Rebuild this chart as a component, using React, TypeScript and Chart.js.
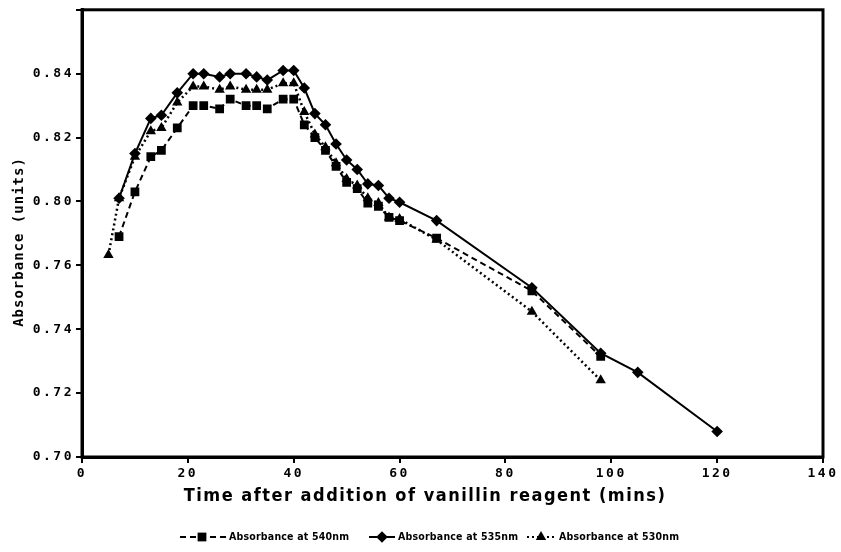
import React, { useEffect, useRef } from 'react';
import { Chart, LinearScale, registerables } from 'chart.js';

// ---- Axis ticks ----
const X_TICKS = [0, 20, 40, 60, 80, 100, 120, 140];
const Y_TICK_VALUES = [0.70, 0.72, 0.74, 0.76, 0.80, 0.82, 0.84, 0.86];
const Y_TICK_LABELS = ['0.70', '0.72', '0.74', '0.76', '0.80', '0.82', '0.84', ''];

// ---- Series: Absorbance at 540nm (squares, dashed) ----
const TIMES_540 = [7, 10, 13, 15, 18, 21, 23, 26, 28, 31, 33, 35, 38, 40, 42, 44, 46, 48, 50, 52, 54, 56, 58, 60, 67, 85, 98];
const ABS_540 = [0.778, 0.803, 0.814, 0.816, 0.823, 0.830, 0.830, 0.829, 0.832, 0.830, 0.830, 0.829, 0.832, 0.832, 0.824, 0.820, 0.816, 0.811, 0.806, 0.804, 0.799, 0.797, 0.790, 0.788, 0.777, 0.752, 0.7315];

// ---- Series: Absorbance at 535nm (diamonds, solid) ----
const TIMES_535 = [7, 10, 13, 15, 18, 21, 23, 26, 28, 31, 33, 35, 38, 40, 42, 44, 46, 48, 50, 52, 54, 56, 58, 60, 67, 85, 98, 105, 120];
const ABS_535 = [0.801, 0.815, 0.826, 0.827, 0.834, 0.840, 0.840, 0.839, 0.840, 0.840, 0.839, 0.838, 0.841, 0.841, 0.8355, 0.8275, 0.824, 0.818, 0.813, 0.810, 0.8055, 0.805, 0.801, 0.7995, 0.788, 0.753, 0.7325, 0.7265, 0.708];

// ---- Series: Absorbance at 530nm (triangles, dotted) ----
const TIMES_530 = [5, 7, 10, 13, 15, 18, 21, 23, 26, 28, 31, 33, 35, 38, 40, 42, 44, 46, 48, 50, 52, 54, 56, 58, 60, 67, 85, 98];
const ABS_530 = [0.7665, 0.801, 0.814, 0.822, 0.823, 0.831, 0.836, 0.836, 0.835, 0.836, 0.835, 0.835, 0.835, 0.837, 0.837, 0.828, 0.821, 0.817, 0.812, 0.807, 0.805, 0.801, 0.799, 0.790, 0.789, 0.776, 0.7455, 0.724];

const SERIES_LABELS = ['Absorbance at 540nm', 'Absorbance at 535nm', 'Absorbance at 530nm'];
const X_TITLE = 'Time after addition of vanillin reagent (mins)';
const Y_TITLE = 'Absorbance (units)';

// Piecewise scale: labelled ticks are evenly spaced (as in the original figure)
function valueToDecimal(v: number): number {
  const T = Y_TICK_VALUES;
  const n = T.length - 1;
  if (v <= T[0]) return (v - T[0]) / (T[1] - T[0]) / n;
  for (let i = 0; i < n; i++) {
    if (v <= T[i + 1]) return (i + (v - T[i]) / (T[i + 1] - T[i])) / n;
  }
  return (n + (v - T[n]) / (T[n] - T[n - 1])) / n;
}
function decimalToValue(d: number): number {
  const T = Y_TICK_VALUES;
  const n = T.length - 1;
  const idx = Math.max(0, Math.min(n - 1e-9, d * n));
  const i = Math.floor(idx);
  return T[i] + (idx - i) * (T[i + 1] - T[i]);
}

class EvenTickScale extends (LinearScale as any) {
  static id = 'evenTick';
  static defaults = (LinearScale as any).defaults;
  buildTicks() {
    (this as any).start = (this as any).min;
    (this as any).end = (this as any).max;
    return Y_TICK_VALUES.map((value) => ({ value }));
  }
  getPixelForValue(value: number) {
    return (this as any).getPixelForDecimal(valueToDecimal(value));
  }
  getValueForPixel(pixel: number) {
    return decimalToValue((this as any).getDecimalForPixel(pixel));
  }
}

Chart.register(...registerables, EvenTickScale as any);

const toPoints = (xs: number[], ys: number[]) => xs.map((x, i) => ({ x, y: ys[i] }));

function drawMarker(ctx: CanvasRenderingContext2D, style: string, x: number, y: number, r: number) {
  ctx.beginPath();
  if (style === 'rect') {
    const s = r * Math.SQRT1_2;
    ctx.rect(x - s, y - s, 2 * s, 2 * s);
  } else if (style === 'rectRot') {
    ctx.moveTo(x, y - r);
    ctx.lineTo(x + r, y);
    ctx.lineTo(x, y + r);
    ctx.lineTo(x - r, y);
    ctx.closePath();
  } else {
    const h = r * 1.5;
    const w = r * Math.sqrt(3);
    ctx.moveTo(x, y - r);
    ctx.lineTo(x + w / 2, y - r + h);
    ctx.lineTo(x - w / 2, y - r + h);
    ctx.closePath();
  }
  ctx.fill();
}

const decorPlugin = {
  id: 'decor',
  beforeDraw(chart: any) {
    const ctx = chart.ctx;
    ctx.save();
    ctx.fillStyle = '#ffffff';
    ctx.fillRect(0, 0, chart.width, chart.height);
    ctx.restore();
    ctx.letterSpacing = '2.5px';
  },
  afterDraw(chart: any) {
    const ctx = chart.ctx as any;
    const a = chart.chartArea;
    ctx.save();
    ctx.letterSpacing = '0px';
    // frame
    ctx.strokeStyle = '#000';
    ctx.lineWidth = 3;
    ctx.setLineDash([]);
    ctx.strokeRect(a.left, a.top, a.right - a.left, a.bottom - a.top);

    ctx.fillStyle = '#000';
    // y title
    ctx.save();
    ctx.translate(19, 242);
    ctx.rotate(-Math.PI / 2);
    ctx.font = 'bold 14px "DejaVu Sans Mono"';
    ctx.letterSpacing = '1px';
    ctx.textAlign = 'center';
    ctx.textBaseline = 'middle';
    ctx.fillText(Y_TITLE, 0, 0);
    ctx.restore();

    // x title
    ctx.font = 'bold 18px "DejaVu Sans Condensed"';
    ctx.letterSpacing = '1.5px';
    ctx.textAlign = 'center';
    ctx.textBaseline = 'middle';
    ctx.fillText(X_TITLE, 425, 496);

    // legend
    const ly = 537;
    const items = [
      { ds: chart.data.datasets[0], x0: 180, len: 46, mk: 22, tx: 229 },
      { ds: chart.data.datasets[1], x0: 369, len: 26, mk: 13, tx: 398 },
      { ds: chart.data.datasets[2], x0: 527, len: 28, mk: 14, tx: 559 },
    ];
    ctx.font = 'bold 10.5px "DejaVu Sans Condensed"';
    ctx.letterSpacing = '0.2px';
    ctx.textAlign = 'left';
    for (const it of items) {
      ctx.save();
      ctx.strokeStyle = '#000';
      ctx.lineWidth = 2;
      ctx.setLineDash(it.ds.borderDash || []);
      ctx.beginPath();
      ctx.moveTo(it.x0, ly);
      ctx.lineTo(it.x0 + it.len, ly);
      ctx.stroke();
      ctx.restore();
      drawMarker(ctx, it.ds.pointStyle, it.x0 + it.mk, ly, it.ds.pointRadius);
      ctx.fillText(it.ds.label, it.tx, ly);
    }
    ctx.restore();
  },
};

export default function App() {
  const canvasRef = useRef<HTMLCanvasElement | null>(null);

  useEffect(() => {
    const canvas = canvasRef.current;
    if (!canvas) return;
    const tickFont = { family: '"DejaVu Sans Mono"', size: 13, weight: 'bold' as const };
    const chart = new Chart(canvas, {
      type: 'line',
      data: {
        datasets: [
          {
            label: SERIES_LABELS[0],
            data: toPoints(TIMES_540, ABS_540),
            borderColor: '#000',
            backgroundColor: '#000',
            borderWidth: 2,
            borderDash: [6, 4],
            pointStyle: 'rect',
            pointRadius: 6.2,
            pointBorderWidth: 0,
            tension: 0,
          },
          {
            label: SERIES_LABELS[1],
            data: toPoints(TIMES_535, ABS_535),
            borderColor: '#000',
            backgroundColor: '#000',
            borderWidth: 2,
            borderDash: [],
            pointStyle: 'rectRot',
            pointRadius: 5.8,
            pointBorderWidth: 0,
            tension: 0,
          },
          {
            label: SERIES_LABELS[2],
            data: toPoints(TIMES_530, ABS_530),
            borderColor: '#000',
            backgroundColor: '#000',
            borderWidth: 2.5,
            borderDash: [2, 3],
            pointStyle: 'triangle',
            pointRadius: 6,
            pointBorderWidth: 0,
            tension: 0,
          },
        ] as any,
      },
      options: {
        animation: false,
        responsive: false,
        devicePixelRatio: 1,
        layout: { padding: { left: 0, right: 18, top: 6, bottom: 0 } },
        plugins: { legend: { display: false }, tooltip: { enabled: false } },
        scales: {
          x: {
            type: 'linear',
            min: 0,
            max: 140,
            afterBuildTicks: (s: any) => { s.ticks = X_TICKS.map((v) => ({ value: v })); },
            afterFit: (s: any) => { s.height = 95; },
            ticks: { color: '#000', font: tickFont, padding: 3, maxRotation: 0, autoSkip: false },
            grid: { drawOnChartArea: false, color: '#000', lineWidth: 2, tickLength: 6 },
            border: { color: '#000', width: 3 },
          },
          y: {
            type: 'evenTick' as any,
            min: 0.70,
            max: 0.86,
            afterFit: (s: any) => { s.width = 82; },
            ticks: {
              color: '#000',
              font: tickFont,
              padding: 2,
              autoSkip: false,
              callback: (_v: any, i: number) => Y_TICK_LABELS[i],
            },
            grid: { drawOnChartArea: false, color: '#000', lineWidth: 2, tickLength: 6 },
            border: { color: '#000', width: 3 },
          },
        },
      } as any,
      plugins: [decorPlugin as any],
    });
    return () => chart.destroy();
  }, []);

  return (
    <canvas
      ref={canvasRef}
      width={841}
      height={552}
      style={{ position: 'absolute', left: 0, top: 0, width: 841, height: 552 }}
    />
  );
}
